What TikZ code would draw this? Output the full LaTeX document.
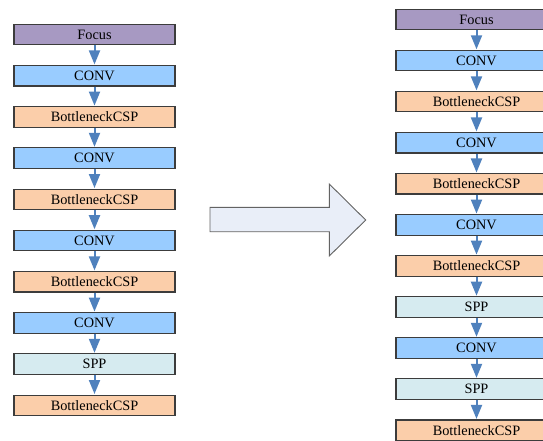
\documentclass[tikz,border=0pt]{standalone}
\usepackage{fontspec}
\setmainfont{Liberation Serif}
\usetikzlibrary{arrows.meta}
\definecolor{focusc}{RGB}{167,153,194}
\definecolor{convc}{RGB}{153,204,255}
\definecolor{bcspc}{RGB}{251,206,170}
\definecolor{sppc}{RGB}{214,235,240}
\definecolor{arrc}{RGB}{79,129,189}
\definecolor{bigc}{RGB}{233,238,248}
\definecolor{edgec}{RGB}{60,60,60}
\tikzset{
  blk/.style={draw=edgec, line width=1.1pt, minimum width=161pt, minimum height=20.5pt, inner sep=0pt,
    font=\fontsize{14.3}{16}\selectfont, anchor=center},
  Focus/.style={blk, fill=focusc},
  CONV/.style={blk, fill=convc},
  BottleneckCSP/.style={blk, fill=bcspc},
  SPP/.style={blk, fill=sppc},
  flow/.style={draw=arrc, line width=2pt, -{Triangle[length=14pt,width=11pt]}, shorten >=0.5pt}
}
\begin{document}
\begin{tikzpicture}[x=1pt,y=-1pt]
\useasboundingbox (0,0) rectangle (543,440);
\foreach \t [count=\i] in {Focus,CONV,BottleneckCSP,CONV,BottleneckCSP,CONV,BottleneckCSP,CONV,SPP,BottleneckCSP}{
  \node[\t] (L\i) at (94.5,{34.5+41.2*(\i-1)}) {\t};
}
\foreach \i [evaluate=\i as \j using int(\i+1)] in {1,...,9}{
  \draw[flow] (L\i.south) -- (L\j.north);
}
\foreach \t [count=\i] in {Focus,CONV,BottleneckCSP,CONV,BottleneckCSP,CONV,BottleneckCSP,SPP,CONV,SPP,BottleneckCSP}{
  \node[\t] (R\i) at (476.5,{19.5+41.07*(\i-1)}) {\t};
}
\foreach \i [evaluate=\i as \j using int(\i+1)] in {1,...,10}{
  \draw[flow] (R\i.south) -- (R\j.north);
}
\draw[fill=bigc, draw=edgec!80, line width=0.9pt] (210,207.3) -- (329.3,207.3) -- (329.3,184) -- (365.7,220) -- (329.3,256) -- (329.3,231.7) -- (210,231.7) -- cycle;
\end{tikzpicture}
\end{document}
